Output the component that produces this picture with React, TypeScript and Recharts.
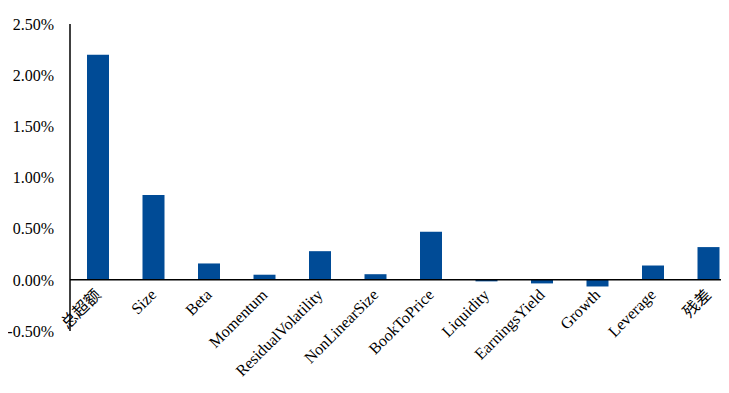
import React from 'react';
import { BarChart, Bar, XAxis, YAxis, ReferenceLine } from 'recharts';

const factors = [
  '总超额',
  'Size',
  'Beta',
  'Momentum',
  'ResidualVolatility',
  'NonLinearSize',
  'BookToPrice',
  'Liquidity',
  'EarningsYield',
  'Growth',
  'Leverage',
  '残差',
];
const returns = [2.2, 0.83, 0.16, 0.05, 0.28, 0.055, 0.47, -0.015, -0.035, -0.065, 0.14, 0.32];
const yTicks = [-0.5, 0, 0.5, 1.0, 1.5, 2.0, 2.5];

const data = factors.map((name, i) => ({ name, value: returns[i] }));

const Y_MIN = -0.5;
const Y_MAX = 2.5;
const CHART_W = 730;
const CHART_H = 385;
const MARGIN = { top: 16, right: 2, left: 0, bottom: 0 };
const X_AXIS_H = 62;
const PLOT_H = CHART_H - MARGIN.top - MARGIN.bottom - X_AXIS_H;
// distance from plot bottom up to the zero line
const ZERO_SHIFT = (PLOT_H * (0 - Y_MIN)) / (Y_MAX - Y_MIN);

const FONT = '"Liberation Serif", "Times New Roman", "Noto Sans CJK SC", serif';

const FactorTick = (props: any) => {
  const { x, y, payload } = props;
  const tx = x + 4;
  const ty = y - ZERO_SHIFT + 16;
  return (
    <text
      x={tx}
      y={ty}
      textAnchor="end"
      transform={`rotate(-45 ${tx} ${ty})`}
      fontSize={16}
      fontFamily={FONT}
      fill="#000"
    >
      {payload.value}
    </text>
  );
};

const App: React.FC = () => {
  return (
    <div style={{ width: 721, height: CHART_H, overflow: 'hidden' }}>
      <BarChart width={CHART_W} height={CHART_H} data={data} margin={MARGIN}>
        <XAxis
          dataKey="name"
          height={X_AXIS_H}
          axisLine={false}
          tickLine={false}
          tickSize={0}
          tickMargin={0}
          interval={0}
          tick={<FactorTick />}
        />
        <YAxis
          width={62}
          domain={[Y_MIN, Y_MAX]}
          ticks={yTicks}
          tickFormatter={(v: number) => `${v.toFixed(2)}%`}
          axisLine={{ stroke: '#000', strokeWidth: 1.5 }}
          tickLine={false}
          tickSize={8}
          tickMargin={8}
          tick={{ fill: '#000', fontSize: 16, fontFamily: FONT }}
        />
        <ReferenceLine y={0} stroke="#000" strokeWidth={1.5} />
        <Bar dataKey="value" fill="#004B96" barSize={22} isAnimationActive={false} />
      </BarChart>
    </div>
  );
};

export default App;
